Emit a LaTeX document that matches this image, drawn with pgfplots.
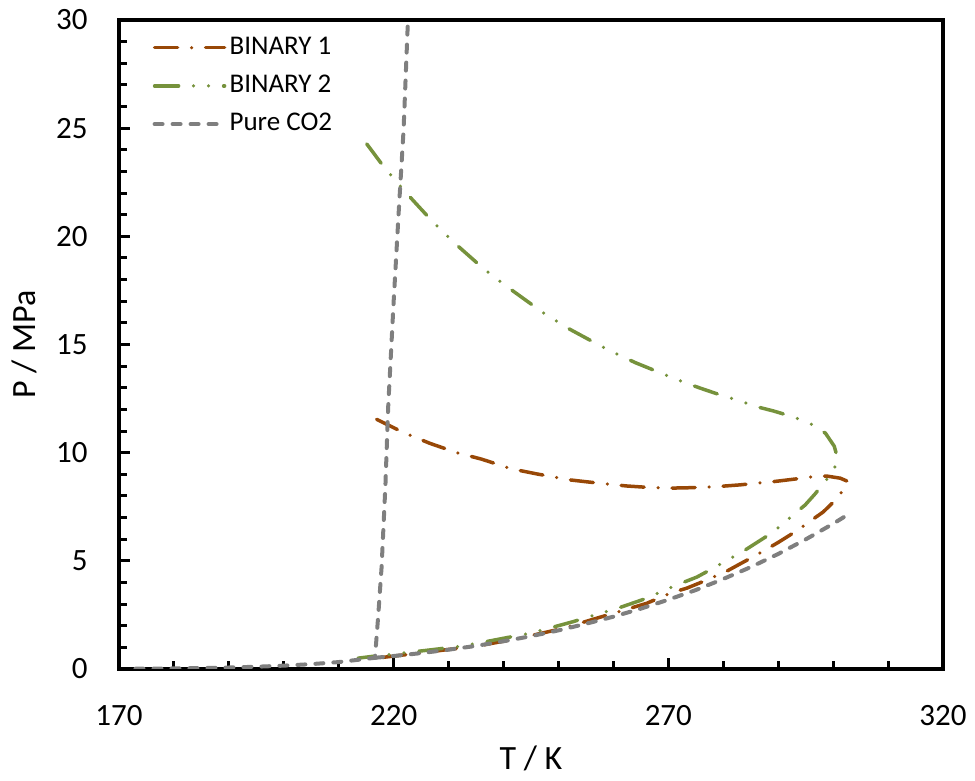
\documentclass[border=0pt]{standalone}
\usepackage{fontspec}
\setmainfont{Carlito}
\usepackage{pgfplots}
\pgfplotsset{compat=1.18}
\definecolor{bin1}{HTML}{984807}
\definecolor{bin2}{HTML}{76923C}
\definecolor{co2}{HTML}{7F7F7F}
\begin{document}
\begin{tikzpicture}
\begin{axis}[
  scale only axis, width=412pt, height=324.5pt,
  xmin=170, xmax=320, ymin=0, ymax=30,
  xtick={170,220,270,320}, minor x tick num=4,
  ytick={0,5,10,15,20,25,30}, minor y tick num=4,
  xtick pos=bottom, ytick pos=left,
  tick align=inside, major tick length=5.5pt, minor tick length=4pt,
  axis line style={line width=2pt},
  every tick/.style={black, line width=1.5pt},
  /pgf/number format/assume math mode=true,
  tick label style={font=\fontsize{15.5}{18}\selectfont, inner sep=0pt},
  xticklabel style={anchor=north, yshift=-18pt},
  yticklabel style={anchor=east, xshift=-15.5pt},
  xlabel={T / K}, ylabel={P / MPa},
  every axis x label/.style={at={(axis description cs:0.5,-0.1556)}, anchor=base, font=\fontsize{17}{20}\selectfont},
  every axis y label/.style={at={(axis description cs:-0.1019,0.5)}, rotate=90, anchor=base, font=\fontsize{17}{20}\selectfont},
  legend cell align=left,
  legend style={at={(axis description cs:0.033,0.988)}, anchor=north west, draw=none, fill=none,
    font=\fontsize{13.5}{16}\selectfont, row sep=3.6pt,
    nodes={text height=9.5pt, text depth=3pt, inner sep=1.5pt}},
  legend image code/.code={\draw[#1] (0pt,0pt) -- (35pt,0pt);},
]
\addplot[color=bin1, line width=1.75pt, line cap=round, dash pattern=on 11.5pt off 7pt on 0pt off 7pt] coordinates {
(216.9,11.54)(221.8,10.93)(226.6,10.43)(231.5,10.00)(236,9.70)(241.5,9.25)(246,9.02)(252.1,8.74)(257,8.60)(262.4,8.46)(266,8.40)(270.3,8.36)(274,8.38)(278.8,8.43)(283,8.51)(286.1,8.59)(289.1,8.66)(293.7,8.80)(296.4,8.89)(298.8,8.92)(301.3,8.82)(302.5,8.69)(302.6,8.51)(302.0,8.32)(300.3,7.78)(298.2,7.26)(294.3,6.56)(292.2,6.20)(289.8,5.82)(285.4,5.18)(283,4.85)(280.7,4.53)(276.1,4.02)(273.4,3.74)(270.3,3.50)(266.1,3.04)(260.6,2.62)(255.8,2.26)(250.9,1.88)(246,1.60)(241.2,1.34)(236.3,1.11)(231.5,0.95)(224.2,0.72)(218.1,0.54)(215,0.48)
};
\addlegendentry{BINARY 1}
\addplot[color=bin2, line width=1.75pt, line cap=round, dash pattern=on 12pt off 7.5pt on 0pt off 7.5pt on 0pt off 7.5pt] coordinates {
(215.1,24.27)(218.1,23.25)(221.8,22.14)(226.9,20.73)(230.9,19.73)(236.6,18.45)(241.2,17.57)(247.2,16.47)(252.1,15.70)(258.8,14.78)(264,14.16)(270.3,13.51)(273.6,13.18)(276.3,12.94)(279,12.71)(283.6,12.34)(286.3,12.11)(289.1,11.93)(291.6,11.74)(294.2,11.52)(296.3,11.28)(298.6,10.90)(300.2,10.30)(300.8,9.75)(300.2,9.25)(298.5,8.65)(296.7,8.09)(294.9,7.58)(292.7,7.12)(289.1,6.33)(284.3,5.55)(281.8,5.18)(277.6,4.58)(275.2,4.25)(272.5,3.98)(269.8,3.70)(265.5,3.22)(261.5,2.87)(257.6,2.57)(252.7,2.19)(248.5,1.90)(244.8,1.65)(240,1.42)(235.5,1.20)(231.5,1.03)(226.6,0.88)(221,0.72)(215.7,0.57)(213.5,0.50)
};
\addlegendentry{BINARY 2}
\addplot[color=co2, line width=2pt, line cap=round, dash pattern=on 4pt off 5pt] coordinates {
(173,0.014)(180,0.027)(185,0.044)(190,0.069)(195,0.104)(200,0.155)(205,0.225)(210,0.320)(216.6,0.518)(217.2,2.5)(217.8,4.7)(218.5,8.5)(219.0,12.1)(220.0,17.0)(221.0,21.5)(221.8,24.9)(222.6,30)
};
\addlegendentry{Pure CO2}
\addplot[color=co2, line width=2pt, line cap=round, dash pattern=on 4pt off 5pt, forget plot] coordinates {
(216.6,0.518)(220,0.600)(225,0.734)(230,0.893)(235,1.068)(240,1.283)(245,1.516)(250,1.785)(255,2.09)(260,2.419)(265,2.79)(270,3.203)(275,3.65)(280,4.161)(285,4.71)(290,5.318)(295,5.99)(300,6.713)(302,7.03)
};
\coordinate (bl) at (rel axis cs:0,0);
\coordinate (tr) at (rel axis cs:1,1);
\end{axis}
\path (bl) ++(-59.5pt,-56pt) coordinate (a);
\path (tr) ++(16pt,10pt) coordinate (b);
\path (a) rectangle (b);
\end{tikzpicture}
\end{document}
